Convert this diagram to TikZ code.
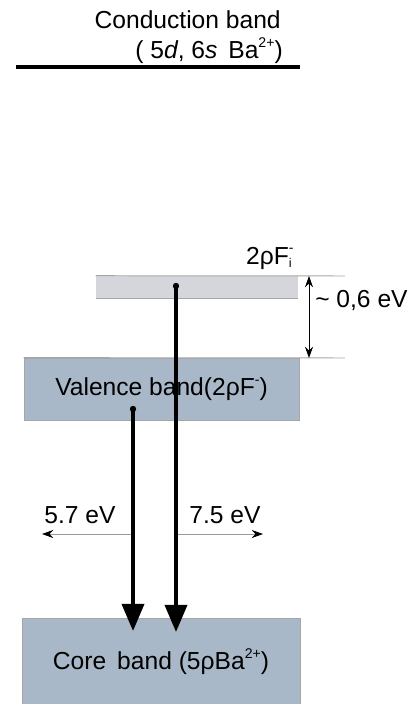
\documentclass[tikz,border=0pt]{standalone}
\usepackage{fontspec}
\setmainfont{Liberation Sans}
\usetikzlibrary{arrows.meta,positioning}
\definecolor{bandblue}{HTML}{A9B8C8}
\definecolor{trapgrey}{HTML}{D4D6DC}
\newcommand{\upidx}[1]{\raisebox{0.85ex}{\fontsize{10}{10}\selectfont #1}}
\newcommand{\lowidx}[1]{\raisebox{-0.3ex}{\fontsize{9}{9}\selectfont #1}}

\begin{document}
\begin{tikzpicture}[x=0.025cm, y=-0.025cm,
    every node/.style={font=\fontsize{17.5}{21}\selectfont, inner sep=0pt},
    band/.style={draw=gray!70, line width=0.5pt, fill=bandblue},
    lvl/.style={draw=gray!70, line width=0.7pt},
    trans/.style={line width=0.1cm, -{Triangle[length=0.68cm, width=0.55cm]}},
    lbl/.style={draw=gray!80, line width=0.6pt, -{Stealth[length=0.28cm, width=0.2cm, color=black]}},
    gaparr/.style={line width=0.6pt, {Stealth[length=0.28cm, width=0.2cm]}-{Stealth[length=0.28cm, width=0.2cm]}}
]
\useasboundingbox (0,0) rectangle (411,704);

% conduction band
\draw[line width=0.1cm] (16,67) coordinate (cbL) -- (300,67) coordinate (cbR);
\node[anchor=east] (cb) at (281,20) {Conduction band};
\node[anchor=east] (cbsub) at (283,51) {( 5\textit{d}, 6\textit{s}\, Ba\upidx{2+})};

% bands
\node[fill=trapgrey, minimum width=5.05cm, minimum height=0.55cm] (trap) at (197,287) {};
\node[anchor=east] (trapname) at (292,258) {2ρF\rlap{\upidx{-}}\lowidx{i}};
\node[band, minimum width=6.875cm, minimum height=1.55cm] (vb) at (161.5,389) {Valence band(2ρF\upidx{-})};
\node[band, minimum width=6.95cm, minimum height=2.2cm] (core) at (161,662) {Core\, band (5ρBa\upidx{2+})};

% level lines and gap
\coordinate (gT) at (345,276);
\coordinate (gB) at (345,358);
\draw[lvl] (trap.north west) -- (gT);
\draw[lvl] (trap.south west) -- (trap.south east);
\draw[lvl] (vb.north west) -- (gB);
\coordinate (gapT) at (309,276);
\coordinate (gapB) at (309,358);
\draw[gaparr] (gapT) -- (gapB);
\node[anchor=west] (gap) at (315,300) {\textasciitilde\ 0,6 eV};

% transitions
\coordinate (vS) at (133,409);
\coordinate (vE) at (133,631);
\coordinate (tS) at (176,286);
\coordinate (tE) at (176,632);
\draw[trans] (vS) -- (vE);
\draw[trans] (tS) -- (tE);
\fill (vS) circle[radius=0.08cm];
\fill (tS) circle[radius=0.08cm];

% energies
\coordinate (lowA) at (131,534);
\coordinate (lowB) at (42,534);
\coordinate (highA) at (178,534);
\coordinate (highB) at (263,534);
\draw[lbl] (lowA) -- (lowB);
\draw[lbl] (highA) -- (highB);
\node (lowE) at (80,515) {5.7 eV};
\node (highE) at (225,515) {7.5 eV};
\end{tikzpicture}
\end{document}
